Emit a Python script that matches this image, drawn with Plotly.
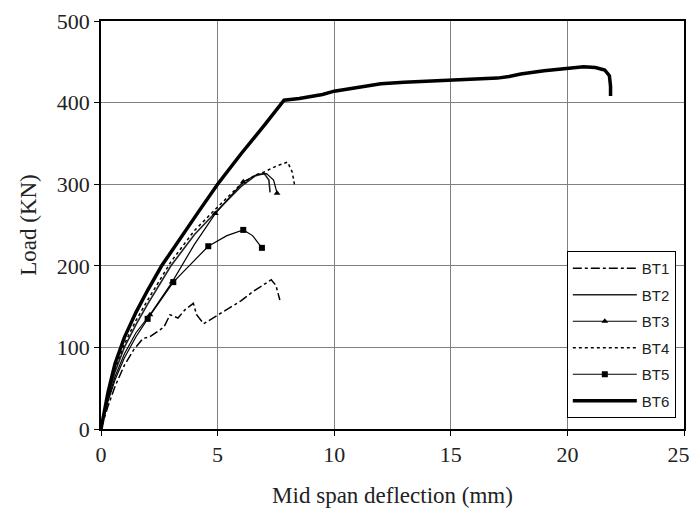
import plotly.graph_objects as go

# Mid span deflection (mm) and Load (kN) for each beam
bt1_x = [0, 0.3, 0.6, 1.0, 1.4, 1.8, 2.1, 2.4, 2.7, 2.96, 3.3, 3.6, 3.96, 4.1, 4.4, 4.8, 5.5, 6.0, 6.5, 7.0, 7.3, 7.5, 7.67]
bt1_y = [0, 28, 52, 78, 97, 111, 113, 119, 125, 140, 136, 146, 154, 140, 129, 136, 148, 157, 168, 178, 183, 176, 158]

bt2_x = [0, 0.3, 0.6, 1.0, 1.5, 2.0, 3.0, 4.0, 5.0, 6.0, 6.6, 7.0, 7.2, 7.25]
bt2_y = [0, 40, 70, 100, 128, 153, 200, 238, 268, 297, 310, 313, 305, 290]

bt3_x = [0, 0.3, 0.6, 1.0, 1.5, 2.1, 3.05, 4.0, 4.9, 6.1, 6.7, 7.1, 7.4, 7.55]
bt3_y = [0, 36, 64, 92, 118, 140, 180, 226, 264, 303, 312, 313, 305, 289]

bt4_x = [0, 0.3, 0.6, 1.0, 1.5, 2.0, 3.0, 4.0, 5.0, 6.0, 6.6, 7.0, 7.5, 8.0, 8.2, 8.3]
bt4_y = [0, 42, 74, 104, 133, 158, 205, 243, 272, 300, 311, 315, 322, 327, 315, 299]

bt5_x = [0, 0.3, 0.6, 1.0, 1.5, 2.0, 3.1, 4.6, 5.4, 6.1, 6.5, 6.9]
bt5_y = [0, 34, 60, 87, 113, 135, 180, 224, 237, 244, 237, 222]

bt6_x = [0, 0.3, 0.6, 1.0, 1.5, 2.0, 2.6, 3.4, 4.2, 5.0, 6.0, 7.0, 7.85, 8.5, 9.0, 9.5, 10.0, 10.5, 11.0,
         11.5, 12.0, 13.0, 14.0, 15.0, 16.0, 17.0, 17.5, 18.0, 19.0, 20.0, 20.7, 21.2, 21.6, 21.8, 21.85, 21.85]
bt6_y = [0, 45, 80, 112, 143, 170, 200, 234, 267, 300, 337, 372, 403, 405, 407, 410, 414, 416, 418,
         420, 423, 425, 426, 427, 428, 430, 432, 435, 439, 442, 444, 443, 440, 433, 420, 408]

# markers only at selected points for BT3 / BT5
bt3_marker_idx = [5, 6, 8, 9, 13]
bt5_marker_idx = [5, 6, 7, 9, 11]

x_ticks = [0, 5, 10, 15, 20, 25]
y_ticks = [0, 100, 200, 300, 400, 500]

series_names = ["BT1", "BT2", "BT3", "BT4", "BT5", "BT6"]

fig = go.Figure()


def add_series(name, xs, ys, line, marker_idx=None, symbol=None, grp=None):
    if marker_idx is None:
        fig.add_trace(go.Scatter(x=xs, y=ys, mode="lines", name=name, legendgroup=grp, line=line))
        return
    fig.add_trace(go.Scatter(x=xs, y=ys, mode="lines", name=name, legendgroup=grp, line=line,
                             showlegend=False))
    fig.add_trace(go.Scatter(x=[xs[i] for i in marker_idx], y=[ys[i] for i in marker_idx],
                             mode="markers", name=name, legendgroup=grp, showlegend=False,
                             marker=dict(symbol=symbol, color="black", size=6)))
    # legend entry (no data)
    fig.add_trace(go.Scatter(x=[None], y=[None], mode="lines+markers", name=name, legendgroup=grp,
                             line=line, marker=dict(symbol=symbol, color="black", size=6)))


add_series(series_names[0], bt1_x, bt1_y, dict(color="black", width=1.5, dash="dashdot"), grp="g1")
add_series(series_names[1], bt2_x, bt2_y, dict(color="#222", width=1.6), grp="g2")
add_series(series_names[2], bt3_x, bt3_y, dict(color="black", width=1.2), bt3_marker_idx, "triangle-up", "g3")
add_series(series_names[3], bt4_x, bt4_y, dict(color="black", width=1.5, dash="dot"), grp="g4")
add_series(series_names[4], bt5_x, bt5_y, dict(color="black", width=1.2), bt5_marker_idx, "square", "g5")
add_series(series_names[5], bt6_x, bt6_y, dict(color="black", width=3.5), grp="g6")

serif = "Liberation Serif, Times New Roman, serif"

# last x label padded with an en space so it stays inside the window edge
x_ticktext = [str(v) for v in x_ticks]
x_ticktext[-1] = x_ticktext[-1] + "\u2002"

# page body has an 8px default margin, so the figure is offset by 8px right/down;
# keep the figure small enough that the page never scrolls
fig.update_layout(
    width=689, height=500,
    margin=dict(l=93, r=13, t=13, b=79),
    paper_bgcolor="white", plot_bgcolor="white",
    showlegend=True,
    legend=dict(x=0.799, y=0.027, xanchor="left", yanchor="bottom",
                bgcolor="white", bordercolor="black", borderwidth=1,
                font=dict(family="Liberation Sans, Arial, sans-serif", size=15, color="#222"),
                tracegroupgap=4, itemwidth=64),
    xaxis=dict(range=[0, 25], tickvals=x_ticks, ticktext=x_ticktext,
               showgrid=True, gridcolor="#808080", gridwidth=1, zeroline=False,
               showline=True, linecolor="black", linewidth=1.5, mirror=True,
               ticks="outside", ticklen=5, tickcolor="black", automargin=False,
               ticklabeloverflow="allow",
               tickfont=dict(family=serif, size=22, color="#222"),
               title=dict(text="Mid span deflection (mm)", font=dict(family=serif, size=23, color="#222"),
                          standoff=22)),
    yaxis=dict(range=[0, 500], tickvals=y_ticks, ticktext=[str(v) for v in y_ticks],
               showgrid=True, gridcolor="#808080", gridwidth=1, zeroline=False,
               showline=True, linecolor="black", linewidth=1.5, mirror=True,
               ticks="outside", ticklen=5, tickcolor="black", automargin=False,
               tickfont=dict(family=serif, size=22, color="#222"),
               title=dict(text="Load (KN)", font=dict(family=serif, size=23, color="#222"),
                          standoff=14)),
)

fig.write_html("out.html")
